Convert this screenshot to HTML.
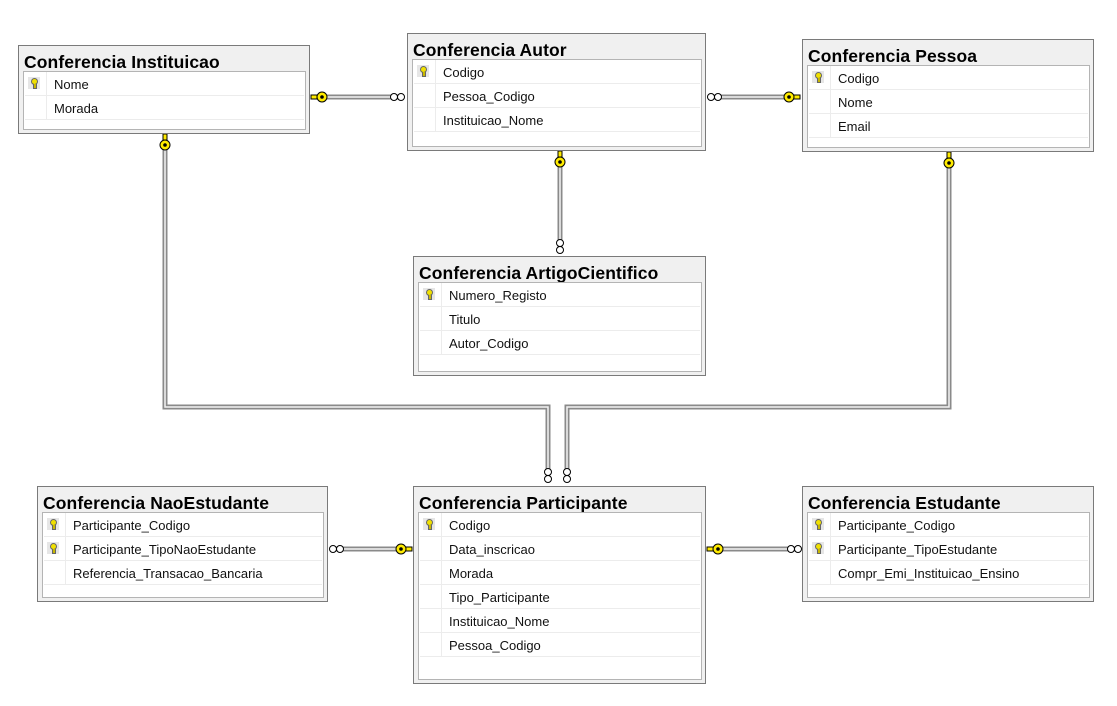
<!DOCTYPE html>
<html><head><meta charset="utf-8"><style>
body{margin:0;width:1117px;height:706px;background:#fff;position:relative;overflow:hidden;font-family:"Liberation Sans",sans-serif}
.t{position:absolute;border:1px solid #7a7a7a;background:#f0f0f0;box-sizing:border-box}
.t h{display:block;position:absolute;left:5px;top:6px;font-weight:bold;font-size:17.5px;color:#000;white-space:nowrap;letter-spacing:0.1px}
.in{position:absolute;left:4px;right:3px;top:25px;bottom:3px;border:1px solid #b4b4b4;background:#fff}
.r{height:23px;border-bottom:1px solid #ececec;position:relative;margin:0 1px}
.r .c{position:absolute;left:0;top:0;width:21px;height:23px;border-right:1px solid #ececec}
.r span{position:absolute;left:29px;top:5px;font-size:13px;color:#111;white-space:nowrap}
.k{position:absolute;left:3px;top:5px;width:12px;height:12px;background:#e6e6e6}
.k:before{content:"";position:absolute;left:3px;top:1px;width:5px;height:5px;border-radius:50%;background:#f0e000;border:1px solid #666}
.k:after{content:"";position:absolute;left:5px;top:7px;width:2px;height:4px;background:#c8b800;border:1px solid #666;border-top:none}
</style></head><body>
<svg width="1117" height="706" style="position:absolute;left:0;top:0">
<g fill="none" stroke-linejoin="miter">
<g stroke="#8a8a8a" stroke-width="5">
<path d="M318 97H402M712 97H798M560 158V248M165 142V407H548V472M949 161V407H567V472M336 549H406M712 549H796"/>
</g>
<g stroke="#f4f4f4" stroke-width="1.5">
<path d="M318 97H402M712 97H798M560 158V248M165 142V407H548V472M949 161V407H567V472M336 549H406M712 549H796"/>
</g>
</g>
<g stroke="#000" stroke-width="1" fill="#fff">
<circle cx="394" cy="97" r="3.5"/><circle cx="401" cy="97" r="3.5"/>
<circle cx="711" cy="97" r="3.5"/><circle cx="718" cy="97" r="3.5"/>
<circle cx="560" cy="243" r="3.5"/><circle cx="560" cy="250" r="3.5"/>
<circle cx="548" cy="472" r="3.5"/><circle cx="548" cy="479" r="3.5"/>
<circle cx="567" cy="472" r="3.5"/><circle cx="567" cy="479" r="3.5"/>
<circle cx="333" cy="549" r="3.5"/><circle cx="340" cy="549" r="3.5"/>
<circle cx="791" cy="549" r="3.5"/><circle cx="798" cy="549" r="3.5"/>
</g>
<g stroke="#000" stroke-width="1" fill="#ffeb00">
<path d="M311 95h6v4h-6z"/><circle cx="322" cy="97" r="5"/>
<path d="M792 95h8v4h-8z"/><circle cx="789" cy="97" r="5"/>
<path d="M558 151v6h4v-6z"/><circle cx="560" cy="162" r="5"/>
<path d="M163 134v6h4v-6z"/><circle cx="165" cy="145" r="5"/>
<path d="M947 152v6h4v-6z"/><circle cx="949" cy="163" r="5"/>
<path d="M402 547h10v4h-10z"/><circle cx="401" cy="549" r="5"/>
<path d="M707 547h8v4h-8z"/><circle cx="718" cy="549" r="5"/>
</g>
<g fill="#000">
<circle cx="322" cy="97" r="1.8"/><circle cx="789" cy="97" r="1.8"/><circle cx="560" cy="162" r="1.8"/>
<circle cx="165" cy="145" r="1.8"/><circle cx="949" cy="163" r="1.8"/><circle cx="401" cy="549" r="1.8"/><circle cx="718" cy="549" r="1.8"/>
</g>
</svg>

<div class="t" style="left:18px;top:45px;width:292px;height:89px"><h>Conferencia Instituicao</h><div class="in">
<div class="r"><div class="c"><div class="k"></div></div><span>Nome</span></div>
<div class="r"><div class="c"></div><span>Morada</span></div></div></div>

<div class="t" style="left:407px;top:33px;width:299px;height:118px"><h>Conferencia Autor</h><div class="in">
<div class="r"><div class="c"><div class="k"></div></div><span>Codigo</span></div>
<div class="r"><div class="c"></div><span>Pessoa_Codigo</span></div>
<div class="r"><div class="c"></div><span>Instituicao_Nome</span></div></div></div>

<div class="t" style="left:802px;top:39px;width:292px;height:113px"><h>Conferencia Pessoa</h><div class="in">
<div class="r"><div class="c"><div class="k"></div></div><span>Codigo</span></div>
<div class="r"><div class="c"></div><span>Nome</span></div>
<div class="r"><div class="c"></div><span>Email</span></div></div></div>

<div class="t" style="left:413px;top:256px;width:293px;height:120px"><h>Conferencia ArtigoCientifico</h><div class="in">
<div class="r"><div class="c"><div class="k"></div></div><span>Numero_Registo</span></div>
<div class="r"><div class="c"></div><span>Titulo</span></div>
<div class="r"><div class="c"></div><span>Autor_Codigo</span></div></div></div>

<div class="t" style="left:37px;top:486px;width:291px;height:116px"><h>Conferencia NaoEstudante</h><div class="in">
<div class="r"><div class="c"><div class="k"></div></div><span>Participante_Codigo</span></div>
<div class="r"><div class="c"><div class="k"></div></div><span>Participante_TipoNaoEstudante</span></div>
<div class="r"><div class="c"></div><span>Referencia_Transacao_Bancaria</span></div></div></div>

<div class="t" style="left:413px;top:486px;width:293px;height:198px"><h>Conferencia Participante</h><div class="in">
<div class="r"><div class="c"><div class="k"></div></div><span>Codigo</span></div>
<div class="r"><div class="c"></div><span>Data_inscricao</span></div>
<div class="r"><div class="c"></div><span>Morada</span></div>
<div class="r"><div class="c"></div><span>Tipo_Participante</span></div>
<div class="r"><div class="c"></div><span>Instituicao_Nome</span></div>
<div class="r"><div class="c"></div><span>Pessoa_Codigo</span></div></div></div>

<div class="t" style="left:802px;top:486px;width:292px;height:116px"><h>Conferencia Estudante</h><div class="in">
<div class="r"><div class="c"><div class="k"></div></div><span>Participante_Codigo</span></div>
<div class="r"><div class="c"><div class="k"></div></div><span>Participante_TipoEstudante</span></div>
<div class="r"><div class="c"></div><span>Compr_Emi_Instituicao_Ensino</span></div></div></div>
</body></html>
